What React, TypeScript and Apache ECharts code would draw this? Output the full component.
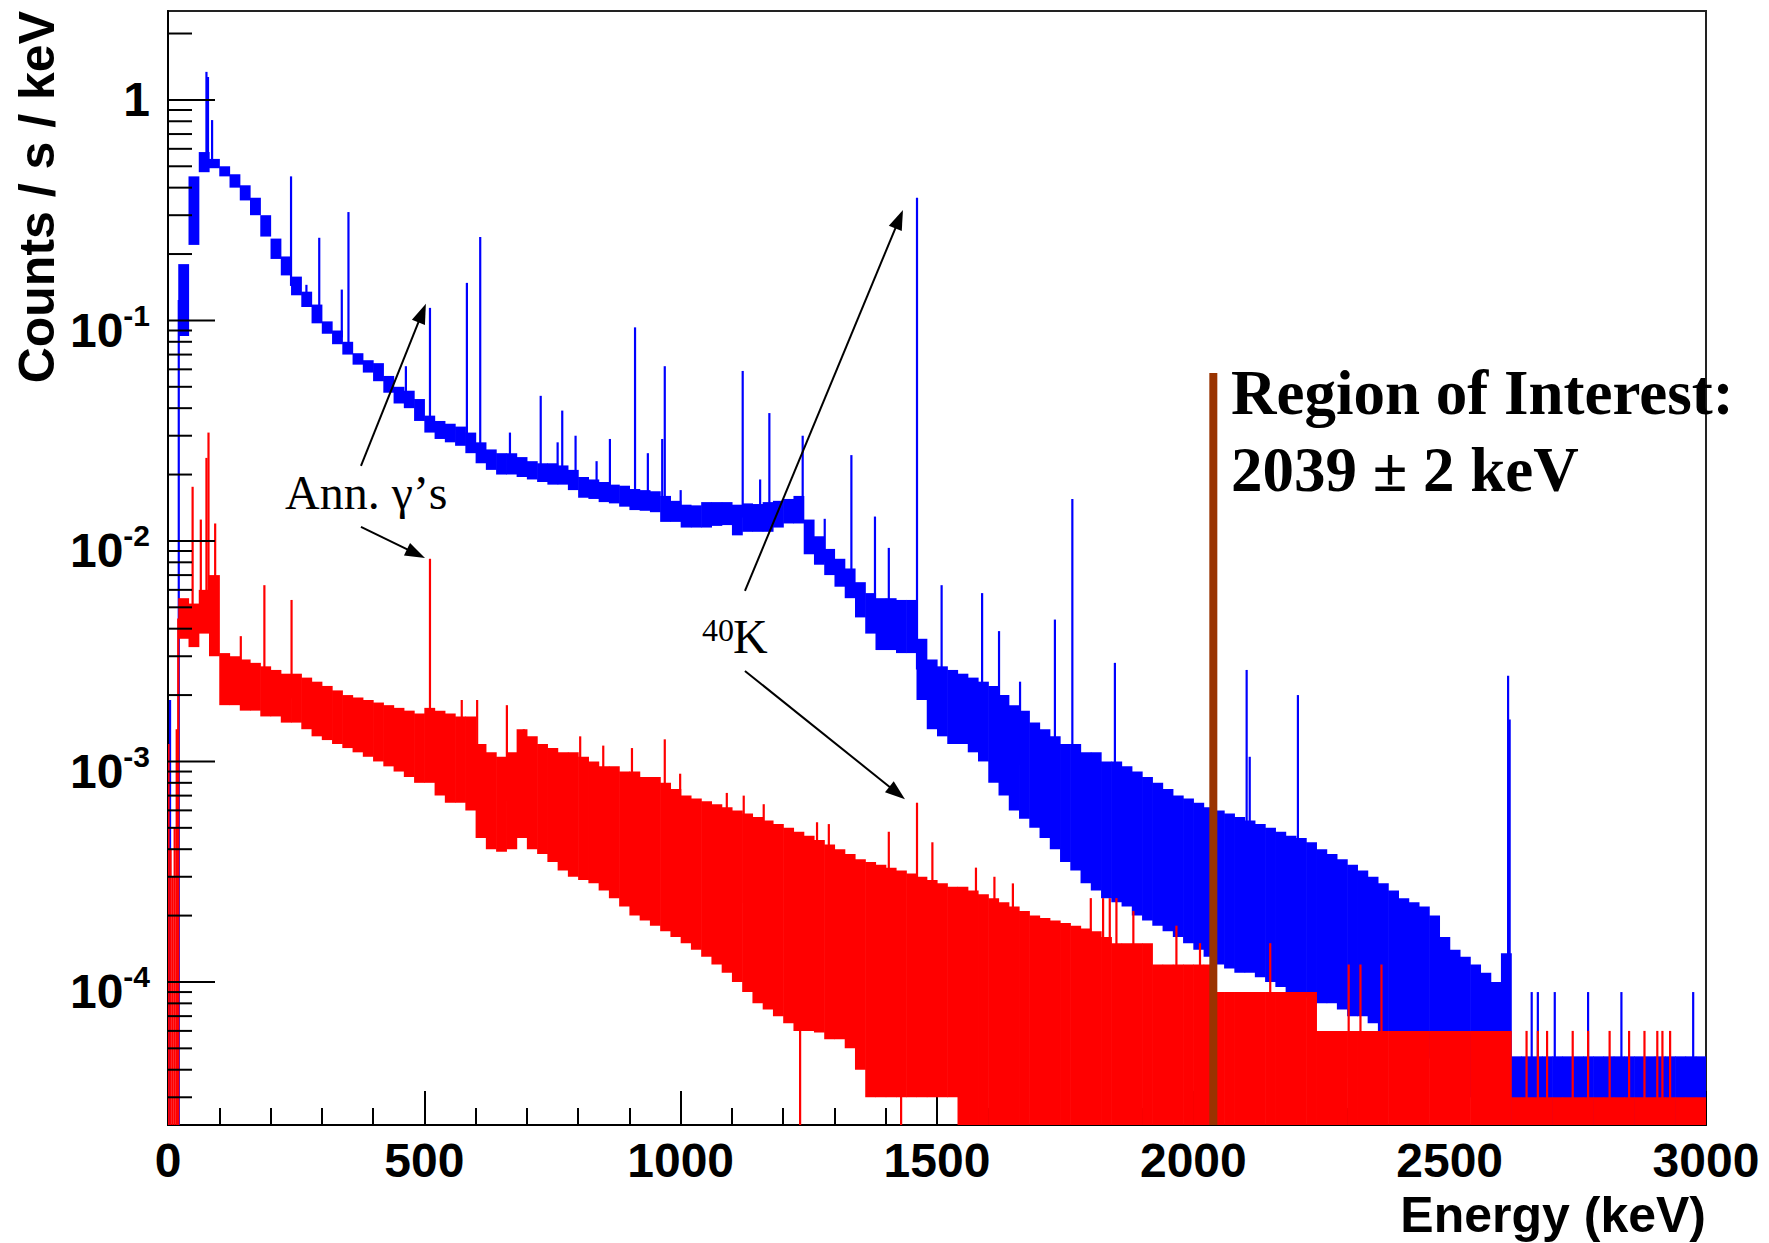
import React, { useEffect, useRef } from "react";
import * as echarts from "echarts";

// ---------- axis ranges ----------
const X_MIN = 0;
const X_MAX = 3000;
const X_STEP = 500;
const Y_MIN = 2.246e-5;
const Y_MAX = 2.53;
const BIN_KEV = 20; // width of each envelope bin (keV), bins start at 0, 20, 40 ...

const yMajorTicks = [1e-4, 1e-3, 1e-2, 1e-1, 1];
const yMinorTicks = [
  3e-5, 4e-5, 5e-5, 6e-5, 7e-5, 8e-5, 9e-5,
  2e-4, 3e-4, 4e-4, 5e-4, 6e-4, 7e-4, 8e-4, 9e-4,
  2e-3, 3e-3, 4e-3, 5e-3, 6e-3, 7e-3, 8e-3, 9e-3,
  2e-2, 3e-2, 4e-2, 5e-2, 6e-2, 7e-2, 8e-2, 9e-2,
  0.2, 0.3, 0.4, 0.5, 0.6, 0.7, 0.8, 0.9,
  2,
];

// ---------- blue spectrum: noise envelope per 20 keV bin (counts/s/keV) ----------
const blueLo = [
  0, 0.085, 0.22, 0.47, 0.49, 0.45, 0.40, 0.35, 0.30, 0.24,
  0.19, 0.16, 0.13, 0.115, 0.097, 0.087, 0.078, 0.07, 0.063, 0.058,
  0.053, 0.047, 0.042, 0.040, 0.035, 0.031, 0.029, 0.028, 0.027, 0.025,
  0.0225, 0.021, 0.020, 0.020, 0.0195, 0.019, 0.0185, 0.018, 0.018, 0.017,
  0.0157, 0.0155, 0.015, 0.0148, 0.0143, 0.0138, 0.0137, 0.0135, 0.0122, 0.0122,
  0.0115, 0.0115, 0.0115, 0.0117, 0.0118, 0.0106, 0.011, 0.011, 0.011, 0.0115,
  0.012, 0.012, 0.0087, 0.0078, 0.0070, 0.0062, 0.0055, 0.0045, 0.0038, 0.0032,
  0.0032, 0.0031, 0.0031, 0.0019, 0.0014, 0.0013, 0.0012, 0.0012, 0.0011, 0.0010,
  8e-4, 7e-4, 6e-4, 5.5e-4, 5e-4, 4.5e-4, 4e-4, 3.5e-4, 3.2e-4, 2.8e-4,
  2.6e-4, 2.4e-4, 2.3e-4, 2.2e-4, 2e-4, 1.9e-4, 1.8e-4, 1.7e-4, 1.6e-4, 1.5e-4,
  1.4e-4, 1.3e-4, 1.2e-4, 1.15e-4, 1.1e-4, 1.1e-4, 1.05e-4, 1e-4, 9.5e-5, 9e-5,
  9e-5, 8.5e-5, 8e-5, 8e-5, 7.5e-5, 7e-5, 7e-5, 6.5e-5, 6e-5, 6e-5,
  6e-5, 6e-5, 5.5e-5, 4.5e-5, 4e-5, 3.5e-5, 3e-5, 3e-5, 3e-5, 3e-5,
  3e-5, 0, 0, 0, 0, 0, 0, 0, 0, 0,
  0, 0, 0, 0, 0, 0, 0, 0, 0, 0,
];
const blueHi = [
  0, 0.18, 0.45, 0.58, 0.54, 0.50, 0.46, 0.41, 0.36, 0.30,
  0.235, 0.195, 0.158, 0.135, 0.118, 0.099, 0.09, 0.08, 0.071, 0.066,
  0.064, 0.056, 0.05, 0.048, 0.044, 0.037, 0.035, 0.034, 0.033, 0.031,
  0.028, 0.026, 0.025, 0.025, 0.024, 0.023, 0.0225, 0.0225, 0.022, 0.021,
  0.0195, 0.019, 0.0185, 0.018, 0.0178, 0.0172, 0.017, 0.0168, 0.016, 0.0152,
  0.0146, 0.0145, 0.015, 0.015, 0.015, 0.0146, 0.0148, 0.0147, 0.015, 0.0152,
  0.0155, 0.016, 0.0125, 0.0105, 0.0092, 0.0083, 0.0075, 0.0065, 0.0058, 0.0055,
  0.0055, 0.0054, 0.0054, 0.0036, 0.0029, 0.0027, 0.0026, 0.0025, 0.0024, 0.0023,
  0.0022, 0.002, 0.0018, 0.0017, 0.0015, 0.0014, 0.0013, 0.0012, 0.0012, 0.0011,
  0.0011, 0.001, 0.001, 9.5e-4, 9e-4, 8.5e-4, 8e-4, 7.5e-4, 7e-4, 6.8e-4,
  6.5e-4, 6.2e-4, 6e-4, 5.8e-4, 5.6e-4, 5.4e-4, 5.2e-4, 5e-4, 4.8e-4, 4.6e-4,
  4.5e-4, 4.3e-4, 4e-4, 3.8e-4, 3.6e-4, 3.4e-4, 3.2e-4, 3e-4, 2.8e-4, 2.6e-4,
  2.4e-4, 2.3e-4, 2.2e-4, 2e-4, 1.6e-4, 1.4e-4, 1.3e-4, 1.2e-4, 1.1e-4, 1e-4,
  1.35e-4, 4.6e-5, 4.6e-5, 4.6e-5, 4.6e-5, 4.6e-5, 4.6e-5, 4.6e-5, 4.6e-5, 4.6e-5,
  4.6e-5, 4.6e-5, 4.6e-5, 4.6e-5, 4.6e-5, 4.6e-5, 4.6e-5, 4.6e-5, 4.6e-5, 4.6e-5,
];
// blue single-bin lines (energy keV, value); 0 = empty bin down to the axis
const bluePeaks = [
  [4, 0.0019], [21, 0], [75, 1.34], [78, 1.27], [86, 0.81], [185, 0.28],
  [240, 0.45], [270, 0.145], [295, 0.237], [339, 0.138], [352, 0.31],
  [411, 0.062], [464, 0.062], [511, 0.114], [583, 0.148], [609, 0.239],
  [667, 0.031], [727, 0.0455], [760, 0.028], [769, 0.039], [795, 0.03],
  [836, 0.023], [862, 0.029], [911, 0.093], [936, 0.025], [964, 0.029],
  [969, 0.062], [1000, 0.017], [1121, 0.059], [1155, 0.019], [1173, 0.038],
  [1238, 0.03], [1281, 0.0126], [1333, 0.0245], [1379, 0.0129], [1406, 0.0093],
  [1461, 0.36], [1509, 0.0063], [1588, 0.0058], [1621, 0.0039], [1662, 0.0023],
  [1730, 0.0044], [1764, 0.0155], [1847, 0.0028], [2104, 0.0026], [2110, 0.00105],
  [2204, 0.002], [2614, 0.00245], [2617, 0.00155],
  [2660, 9e-5], [2672, 9e-5], [2705, 9e-5], [2770, 9e-5], [2835, 9e-5], [2975, 9e-5],
];

// ---------- red spectrum ----------
const redLo = [
  0, 3.6e-3, 3.3e-3, 3.8e-3, 3e-3, 1.8e-3, 1.8e-3, 1.7e-3, 1.7e-3, 1.6e-3,
  1.6e-3, 1.5e-3, 1.5e-3, 1.4e-3, 1.3e-3, 1.25e-3, 1.2e-3, 1.15e-3, 1.1e-3, 1.05e-3,
  1.0e-3, 9.5e-4, 9e-4, 8.5e-4, 8e-4, 8e-4, 7e-4, 6.5e-4, 6.5e-4, 6e-4,
  4.5e-4, 4e-4, 3.9e-4, 4e-4, 4.5e-4, 4e-4, 3.8e-4, 3.5e-4, 3.2e-4, 3e-4,
  2.9e-4, 2.8e-4, 2.6e-4, 2.4e-4, 2.2e-4, 2e-4, 1.9e-4, 1.8e-4, 1.7e-4, 1.6e-4,
  1.5e-4, 1.4e-4, 1.3e-4, 1.2e-4, 1.1e-4, 1e-4, 9e-5, 8e-5, 7.5e-5, 7e-5,
  6.5e-5, 6e-5, 6e-5, 5.9e-5, 5.5e-5, 5.5e-5, 5e-5, 4e-5, 3e-5, 3e-5,
  3e-5, 3e-5, 3e-5, 3e-5, 3e-5, 3e-5, 3e-5, 0, 0, 0,
  0, 0, 0, 0, 0, 0, 0, 0, 0, 0,
  0, 0, 0, 0, 0, 0, 0, 0, 0, 0,
  0, 0, 0, 0, 0, 0, 0, 0, 0, 0,
  0, 0, 0, 0, 0, 0, 0, 0, 0, 0,
  0, 0, 0, 0, 0, 0, 0, 0, 0, 0,
  0, 0, 0, 0, 0, 0, 0, 0, 0, 0,
  0, 0, 0, 0, 0, 0, 0, 0, 0, 0,
];
const redHi = [
  0, 5.5e-3, 5.2e-3, 6e-3, 7e-3, 3.1e-3, 3.0e-3, 2.9e-3, 2.8e-3, 2.7e-3,
  2.6e-3, 2.5e-3, 2.5e-3, 2.4e-3, 2.3e-3, 2.2e-3, 2.1e-3, 2.0e-3, 1.95e-3, 1.9e-3,
  1.85e-3, 1.8e-3, 1.75e-3, 1.7e-3, 1.65e-3, 1.75e-3, 1.7e-3, 1.65e-3, 1.6e-3, 1.6e-3,
  1.2e-3, 1.1e-3, 1.05e-3, 1.1e-3, 1.4e-3, 1.3e-3, 1.2e-3, 1.15e-3, 1.1e-3, 1.1e-3,
  1.05e-3, 1.0e-3, 9.5e-4, 9.5e-4, 9e-4, 9e-4, 8.5e-4, 8.5e-4, 8e-4, 7.5e-4,
  7e-4, 6.8e-4, 6.6e-4, 6.4e-4, 6.2e-4, 6e-4, 5.8e-4, 5.6e-4, 5.4e-4, 5.2e-4,
  5e-4, 4.8e-4, 4.6e-4, 4.4e-4, 4.2e-4, 4e-4, 3.8e-4, 3.6e-4, 3.5e-4, 3.4e-4,
  3.3e-4, 3.2e-4, 3.1e-4, 3e-4, 2.9e-4, 2.8e-4, 2.7e-4, 2.7e-4, 2.6e-4, 2.5e-4,
  2.4e-4, 2.3e-4, 2.2e-4, 2.1e-4, 2e-4, 1.95e-4, 1.9e-4, 1.85e-4, 1.8e-4, 1.75e-4,
  1.7e-4, 1.6e-4, 1.5e-4, 1.5e-4, 1.5e-4, 1.5e-4, 1.2e-4, 1.2e-4, 1.2e-4, 1.2e-4,
  1.2e-4, 1.2e-4, 9e-5, 9e-5, 9e-5, 9e-5, 9e-5, 9e-5, 9e-5, 9e-5,
  9e-5, 9e-5, 6e-5, 6e-5, 6e-5, 6e-5, 6e-5, 6e-5, 6e-5, 6e-5,
  6e-5, 6e-5, 6e-5, 6e-5, 6e-5, 6e-5, 6e-5, 6e-5, 6e-5, 6e-5,
  6e-5, 3e-5, 3e-5, 3e-5, 3e-5, 3e-5, 3e-5, 3e-5, 3e-5, 3e-5,
  3e-5, 3e-5, 3e-5, 3e-5, 3e-5, 3e-5, 3e-5, 3e-5, 3e-5, 3e-5,
];
const redPeaks = [
  [1, 1.2e-3], [5, 4e-4], [9, 3e-4], [13, 5e-4], [17, 1.4e-3], [20, 0],
  [48, 0.0176], [64, 0.0125], [75, 0.0238], [79, 0.031], [92, 0.012], [96, 0.0065],
  [142, 0.0037], [188, 0.0063], [241, 0.0054], [511, 0.0083], [573, 0.0019],
  [603, 0.0019], [661, 0.0018], [694, 0.0014], [804, 0.0013], [849, 0.00118],
  [905, 0.00115], [969, 0.00126], [999, 8.8e-4], [1090, 7.2e-4], [1123, 7e-4],
  [1162, 6.4e-4], [1233, 0], [1266, 5.3e-4], [1289, 5.2e-4], [1406, 4.8e-4],
  [1430, 0], [1461, 6.5e-4], [1491, 4.3e-4], [1576, 3.3e-4], [1612, 3e-4],
  [1648, 2.8e-4], [1800, 2.4e-4], [1824, 2.4e-4], [1837, 2.4e-4], [1850, 2.4e-4],
  [1883, 2.1e-4], [1967, 1.8e-4], [2013, 1.5e-4], [2150, 1.5e-4], [2303, 1.2e-4],
  [2326, 1.2e-4], [2367, 1.2e-4], [2650, 6e-5], [2672, 6e-5], [2690, 6e-5],
  [2740, 6e-5], [2770, 6e-5], [2812, 6e-5], [2850, 6e-5], [2880, 6e-5],
  [2905, 6e-5], [2915, 6e-5], [2930, 6e-5],
];

// ---------- annotations (data coordinates) ----------
const roiLine = [[2039, 0.0578]];
// [fromEnergy, fromValue, toEnergy, toValue]
const arrowLines = [
  [376.4, 0.0219, 503, 0.119],
  [376.4, 0.01157, 501.3, 0.00837],
  [1125.4, 0.00593, 1433.6, 0.317],
  [1125.4, 0.002573, 1437.5, 6.74e-4],
];

const SANS = '"Liberation Sans", Arial, Helvetica, sans-serif';
const SERIF = '"Liberation Serif", "Times New Roman", Times, serif';

function buildBand(lo: number[], hi: number[]) {
  const out: number[][] = [];
  for (let i = 0; i < hi.length; i++) {
    if (!(hi[i] > 0)) continue;
    out.push([i * BIN_KEV, Math.max(lo[i], Y_MIN), hi[i]]);
  }
  return out;
}
function buildPeaks(peaks: number[][], lo: number[], hi: number[]) {
  return peaks.map(([e, v]) => {
    const i = Math.min(hi.length - 1, Math.floor(e / BIN_KEV));
    const base = hi[i] > 0 ? Math.sqrt(Math.max(lo[i], Y_MIN) * hi[i]) : Y_MIN;
    return [e, base, Math.max(v, Y_MIN)];
  });
}

const bandRender = (color: string) => (_p: any, api: any) => {
  const e0 = api.value(0);
  const a = api.coord([e0, api.value(2)]);
  const b = api.coord([e0 + BIN_KEV, api.value(1)]);
  return {
    type: "rect",
    shape: { x: a[0], y: a[1], width: b[0] - a[0] + 0.6, height: b[1] - a[1] },
    style: { fill: color },
    silent: true,
  };
};
const peakRender = (color: string) => (_p: any, api: any) => {
  const e = api.value(0);
  const a = api.coord([e, api.value(1)]);
  const b = api.coord([e, api.value(2)]);
  return {
    type: "line",
    shape: { x1: a[0], y1: a[1], x2: b[0], y2: b[1] },
    style: { stroke: color, lineWidth: 2.2 },
    silent: true,
  };
};

export default function App() {
  const ref = useRef<HTMLDivElement>(null);
  useEffect(() => {
    if (!ref.current) return;
    const chart = echarts.init(ref.current, null, { renderer: "svg" });

    const tickData = [
      ...yMajorTicks.map((v) => [X_MIN, v, 47]),
      ...yMinorTicks.map((v) => [X_MIN, v, 24]),
    ];

    const option: any = {
      animation: false,
      backgroundColor: "#ffffff",
      textStyle: { fontFamily: SANS },
      grid: {
        left: 168,
        right: 63,
        top: 11,
        bottom: 118,
        show: true,
        borderColor: "#222",
        borderWidth: 2,
        containLabel: false,
        outerBoundsMode: "none",
      },
      xAxis: {
        type: "value",
        min: X_MIN,
        max: X_MAX,
        interval: X_STEP,
        axisLine: { show: true, lineStyle: { color: "#000", width: 2 } },
        axisTick: { show: true, inside: true, length: 34, lineStyle: { color: "#000", width: 2 } },
        minorTick: { show: true, splitNumber: 5, length: 17, lineStyle: { color: "#000", width: 2 } },
        splitLine: { show: false },
        minorSplitLine: { show: false },
        axisLabel: {
          margin: 11,
          fontSize: 48,
          fontWeight: "bold",
          fontFamily: SANS,
          color: "#000",
          formatter: (v: number) => String(Math.round(v)),
        },
      },
      yAxis: {
        type: "log",
        logBase: 10,
        min: Y_MIN,
        max: Y_MAX,
        axisLine: { show: true, lineStyle: { color: "#000", width: 2 } },
        axisTick: { show: false },
        minorTick: { show: false },
        splitLine: { show: false },
        axisLabel: {
          margin: 18,
          showMinLabel: false,
          showMaxLabel: false,
          formatter: (v: number) => {
            const l = Math.log10(v);
            const k = Math.round(l);
            if (Math.abs(l - k) > 1e-6) return "";
            if (k === 0) return "{one|1}";
            return "{b|10}{s|" + k + "}";
          },
          rich: {
            one: { fontSize: 48, lineHeight: 48, fontWeight: "bold", fontFamily: SANS, color: "#000" },
            b: { fontSize: 48, lineHeight: 48, fontWeight: "bold", fontFamily: SANS, color: "#000", padding: [20, 0, 0, 0] },
            s: { fontSize: 30, lineHeight: 30, fontWeight: "bold", fontFamily: SANS, color: "#000", padding: [14, 0, 24, 0] },
          },
        },
      },
      series: [
        {
          name: "blueBand",
          type: "custom",
          renderItem: bandRender("#0000ff"),
          data: buildBand(blueLo, blueHi),
          encode: { x: 0, y: [1, 2] },
          silent: true,
          clip: true,
        },
        {
          name: "bluePeaks",
          type: "custom",
          renderItem: peakRender("#0000ff"),
          data: buildPeaks(bluePeaks, blueLo, blueHi),
          encode: { x: 0, y: [1, 2] },
          silent: true,
          clip: true,
        },
        {
          name: "redBand",
          type: "custom",
          renderItem: bandRender("#ff0000"),
          data: buildBand(redLo, redHi),
          encode: { x: 0, y: [1, 2] },
          silent: true,
          clip: true,
        },
        {
          name: "redPeaks",
          type: "custom",
          renderItem: peakRender("#ff0000"),
          data: buildPeaks(redPeaks, redLo, redHi),
          encode: { x: 0, y: [1, 2] },
          silent: true,
          clip: true,
        },
        {
          name: "roi",
          type: "custom",
          renderItem: (_p: any, api: any) => {
            const e = api.value(0);
            const top = api.coord([e, api.value(1)]);
            const bot = api.coord([e, Y_MIN]);
            return {
              type: "rect",
              shape: { x: top[0] - 4, y: top[1], width: 8, height: bot[1] - top[1] },
              style: { fill: "#993300" },
              silent: true,
            };
          },
          data: roiLine,
          encode: { x: 0, y: 1 },
          silent: true,
        },
        {
          name: "arrows",
          type: "custom",
          renderItem: (_p: any, api: any) => {
            const p1 = api.coord([api.value(0), api.value(1)]);
            const p2 = api.coord([api.value(2), api.value(3)]);
            const dx = p2[0] - p1[0];
            const dy = p2[1] - p1[1];
            const L = Math.hypot(dx, dy) || 1;
            const ux = dx / L;
            const uy = dy / L;
            const hl = 20;
            const hw = 7;
            const bx = p2[0] - ux * hl;
            const by = p2[1] - uy * hl;
            return {
              type: "group",
              children: [
                {
                  type: "line",
                  shape: { x1: p1[0], y1: p1[1], x2: bx + ux * 2, y2: by + uy * 2 },
                  style: { stroke: "#000", lineWidth: 2 },
                },
                {
                  type: "polygon",
                  shape: {
                    points: [
                      [p2[0], p2[1]],
                      [bx - uy * hw, by + ux * hw],
                      [bx + uy * hw, by - ux * hw],
                    ],
                  },
                  style: { fill: "#000" },
                },
              ],
            };
          },
          data: arrowLines,
          encode: { x: [0, 2], y: [1, 3] },
          silent: true,
          clip: false,
        },
        {
          name: "yTicks",
          type: "custom",
          renderItem: (_p: any, api: any) => {
            const p = api.coord([api.value(0), api.value(1)]);
            const len = api.value(2);
            return {
              type: "line",
              shape: { x1: p[0], y1: p[1], x2: p[0] + len, y2: p[1] },
              style: { stroke: "#000", lineWidth: 2 },
            };
          },
          data: tickData,
          encode: { x: 0, y: 1 },
          silent: true,
          clip: false,
        },
      ],
      graphic: [
        {
          type: "text",
          x: 37,
          y: 11,
          rotation: Math.PI / 2,
          z: 100,
          style: {
            text: "Counts / s / keV",
            font: "bold 50px " + SANS,
            fill: "#000",
            align: "right",
            verticalAlign: "middle",
            textAlign: "right",
            textVerticalAlign: "middle",
          },
        },
        {
          type: "text",
          x: 1706,
          y: 1215,
          z: 100,
          style: {
            text: "Energy (keV)",
            font: "bold 50px " + SANS,
            fill: "#000",
            align: "right",
            verticalAlign: "middle",
            textAlign: "right",
            textVerticalAlign: "middle",
          },
        },
        {
          type: "text",
          x: 285,
          y: 492,
          z: 100,
          style: {
            text: "Ann. γ’s",
            font: "48px " + SERIF,
            fill: "#000",
            align: "left",
            verticalAlign: "middle",
            textAlign: "left",
            textVerticalAlign: "middle",
          },
        },
        {
          type: "text",
          x: 702,
          y: 630,
          z: 100,
          style: {
            text: "40",
            font: "32px " + SERIF,
            fill: "#000",
            align: "left",
            verticalAlign: "middle",
            textAlign: "left",
            textVerticalAlign: "middle",
          },
        },
        {
          type: "text",
          x: 733,
          y: 636,
          z: 100,
          style: {
            text: "K",
            font: "48px " + SERIF,
            fill: "#000",
            align: "left",
            verticalAlign: "middle",
            textAlign: "left",
            textVerticalAlign: "middle",
          },
        },
        {
          type: "text",
          x: 1231,
          y: 393,
          z: 100,
          style: {
            text: "Region of Interest:",
            font: "bold 63px " + SERIF,
            fill: "#000",
            align: "left",
            verticalAlign: "middle",
            textAlign: "left",
            textVerticalAlign: "middle",
          },
        },
        {
          type: "text",
          x: 1231,
          y: 470,
          z: 100,
          style: {
            text: "2039 ± 2 keV",
            font: "bold 63px " + SERIF,
            fill: "#000",
            align: "left",
            verticalAlign: "middle",
            textAlign: "left",
            textVerticalAlign: "middle",
          },
        },
      ],
    };

    chart.setOption(option);
    return () => {
      chart.dispose();
    };
  }, []);

  return (
    <div
      ref={ref}
      style={{
        position: "fixed",
        left: 0,
        top: 0,
        width: 1769,
        height: 1243,
        background: "#ffffff",
      }}
    />
  );
}
